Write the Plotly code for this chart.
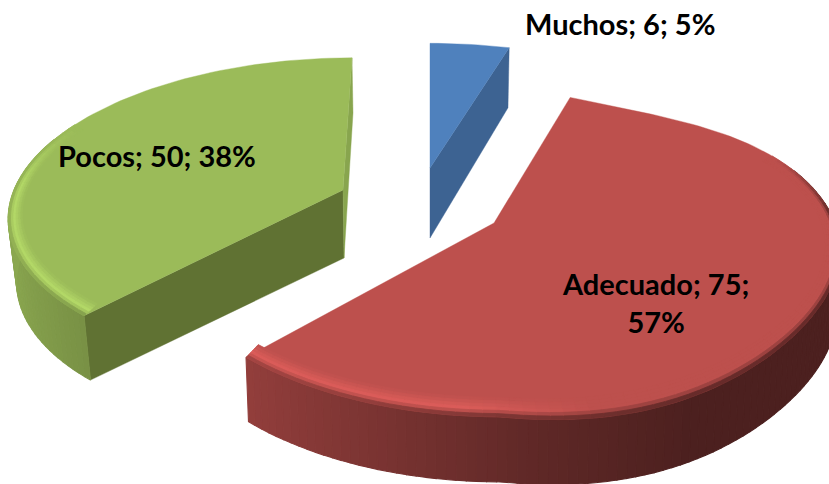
import numpy as np
import plotly.graph_objects as go

# --- data ---
categories = ["Muchos", "Adecuado", "Pocos"]
values = [6, 75, 50]

# --- styling and projection of the exploded 3-D pie ---
base_rgb = [(79, 129, 189), (189, 80, 77), (155, 187, 89)]
cut_rgb = [(61, 99, 146), (120, 50, 48), (96, 114, 51)]
apex = [(430, 168), (494, 223), (343, 190)]
radius_x = [329, 329, 329]
radius_y = [148, 157, 152]
persp_x = [0.187, 0.16, 0.16]
persp_y = [0.187, 0.19, 0.15]
skew = [0, -6, 9]
bulge = [0, 38, 0]
widen = [0, 12, 0]
back_lift = [0, 8, 0]
lower_scale = [0.985, 0.99, 0.975]
label_xy = [(620, 23), (655, 302), (157, 155)]
label_break = [False, True, False]
FONT = "Lato"
BEVEL_PX = 13


def project(i, theta, inset=0.0, lower=False):
    X = np.sin(theta) * (1 - inset / radius_x[i])
    Y = np.cos(theta) * (1 - inset / radius_y[i])
    dx = radius_x[i] * X / (1 + persp_x[i] * Y) + skew[i] * Y + widen[i] * max(X, 0) ** 2
    dy = (radius_y[i] * Y / (1 + persp_y[i] * Y)
          - bulge[i] * max(X, 0) * Y ** 4 + back_lift[i] * max(Y, 0) ** 2)
    ax, ay = apex[i]
    if lower:
        return ax + dx * lower_scale[i], ay - dy + 62.5 - 2.5 * Y
    return ax + dx, ay - dy


def rgb(c):
    return "rgb(%d,%d,%d)" % tuple(int(round(min(255, max(0, v)))) for v in c)


def mix(a, b, t):
    return tuple(a[k] * (1 - t) + b[k] * t for k in range(3))


fig = go.Figure()


def poly(xs, ys, color, width=1.1):
    fig.add_trace(go.Scatter(
        x=list(xs) + [xs[0]], y=list(ys) + [ys[0]], mode="lines", fill="toself",
        fillcolor=color, line=dict(color=color, width=width),
        hoverinfo="skip", showlegend=False))


def side_factor(X):
    return np.interp(X, [-1, -0.75, 0.1, 0.5, 1], [0.9, 0.8, 0.5, 0.4, 0.4])


total = sum(values)
angles = np.cumsum([0] + values) / total * 2 * np.pi

for i in [2, 1, 0]:
    t0, t1 = angles[i], angles[i + 1]
    base = base_rgb[i]
    ax, ay = apex[i]
    fine = np.linspace(t0, t1, max(8, int((t1 - t0) / np.radians(1.5))) + 1)
    coarse = np.linspace(t0, t1, max(8, int((t1 - t0) / np.radians(2))) + 1)
    lower_apex = (ax + (1 if i == 2 else 0), ay + 68 + (2 if i == 0 else 0))

    # cut faces that look toward the viewer
    if i == 0:   # right face of Muchos
        ex, ey = project(i, t1)
        lx, ly = project(i, t1, lower=True)
        poly([ax, ex, lx, lower_apex[0]], [ay, ey, ly, lower_apex[1]], rgb(cut_rgb[i]), 0.4)
    if i == 2:   # first face of Pocos
        ex, ey = project(i, t0)
        lx, ly = project(i, t0, lower=True)
        poly([ax, ex, lx, lower_apex[0]], [ay, ey, ly, lower_apex[1]], rgb(cut_rgb[i]), 0.4)
        # sliver of the rim at the end of the slice
        ex, ey = project(i, t1)
        poly([ax, ex, ex + 1, lower_apex[0]], [ay, ey, ey + 55, lower_apex[1]],
             rgb(mix(base, (0, 0, 0), 0.12)), 0.4)

    # outer wall
    if i != 0:
        for a, b in zip(fine[:-1], fine[1:]):
            mid = (a + b) / 2
            if np.cos(mid) > 0.35:
                continue
            f = side_factor(np.sin(mid))
            col = rgb(tuple(v * f for v in base))
            p1, p2 = project(i, a), project(i, b)
            p3, p4 = project(i, b, lower=True), project(i, a, lower=True)
            poly([p1[0], p2[0], p3[0], p4[0]], [p1[1], p2[1], p3[1], p4[1]], col)

    # top face
    pts = [project(i, v) for v in fine]
    poly([ax] + [p[0] for p in pts], [ay] + [p[1] for p in pts], rgb(base), 0.4)

    # rounded bevel along the rim
    if i != 0:
        rows = np.linspace(BEVEL_PX, 0, 7)
        for a, b in zip(coarse[:-1], coarse[1:]):
            mid = (a + b) / 2
            X, Y = np.sin(mid), np.cos(mid)
            w = np.interp(Y, [-1, 0.05, 0.45], [1, 1, 0])
            if w <= 0:
                continue
            f = side_factor(X)
            wall = tuple(v * f for v in base)
            glow = np.interp(X, [-1, -0.1, 0.25], [0.17, 0.17, 0.0])
            light = tuple(v * (1 + glow) for v in base)
            for r0, r1 in zip(rows[:-1], rows[1:]):
                u = 1 - (r0 + r1) / 2 / BEVEL_PX
                if u < 0.65:
                    c = mix(base, light, u / 0.65)
                else:
                    c = mix(light, wall, (u - 0.65) / 0.35)
                c = mix(base, c, w)
                p1, p2 = project(i, a, r0), project(i, b, r0)
                p3, p4 = project(i, b, r1), project(i, a, r1)
                poly([p1[0], p2[0], p3[0], p4[0]], [p1[1], p2[1], p3[1], p4[1]], rgb(c), 0.8)

# labels built from the data
for i, name in enumerate(categories):
    pct = round(values[i] / total * 100)
    sep = ";<br>" if label_break[i] else "; "
    text = f"{name}; {values[i]}{sep}{pct}%"
    fig.add_annotation(x=label_xy[i][0], y=label_xy[i][1], xref="x", yref="y",
                       text=text, showarrow=False, align="center",
                       font=dict(family=FONT, size=29, color="black", weight="bold"))

fig.update_xaxes(range=[0, 829], visible=False, fixedrange=True)
fig.update_yaxes(range=[484, 0], visible=False, fixedrange=True)
fig.update_layout(width=829, height=484, margin=dict(l=0, r=0, t=0, b=0),
                  plot_bgcolor="white", paper_bgcolor="white", showlegend=False)
fig.write_html("out.html", config={"displayModeBar": False},
               post_script="document.body.style.margin='0';")
